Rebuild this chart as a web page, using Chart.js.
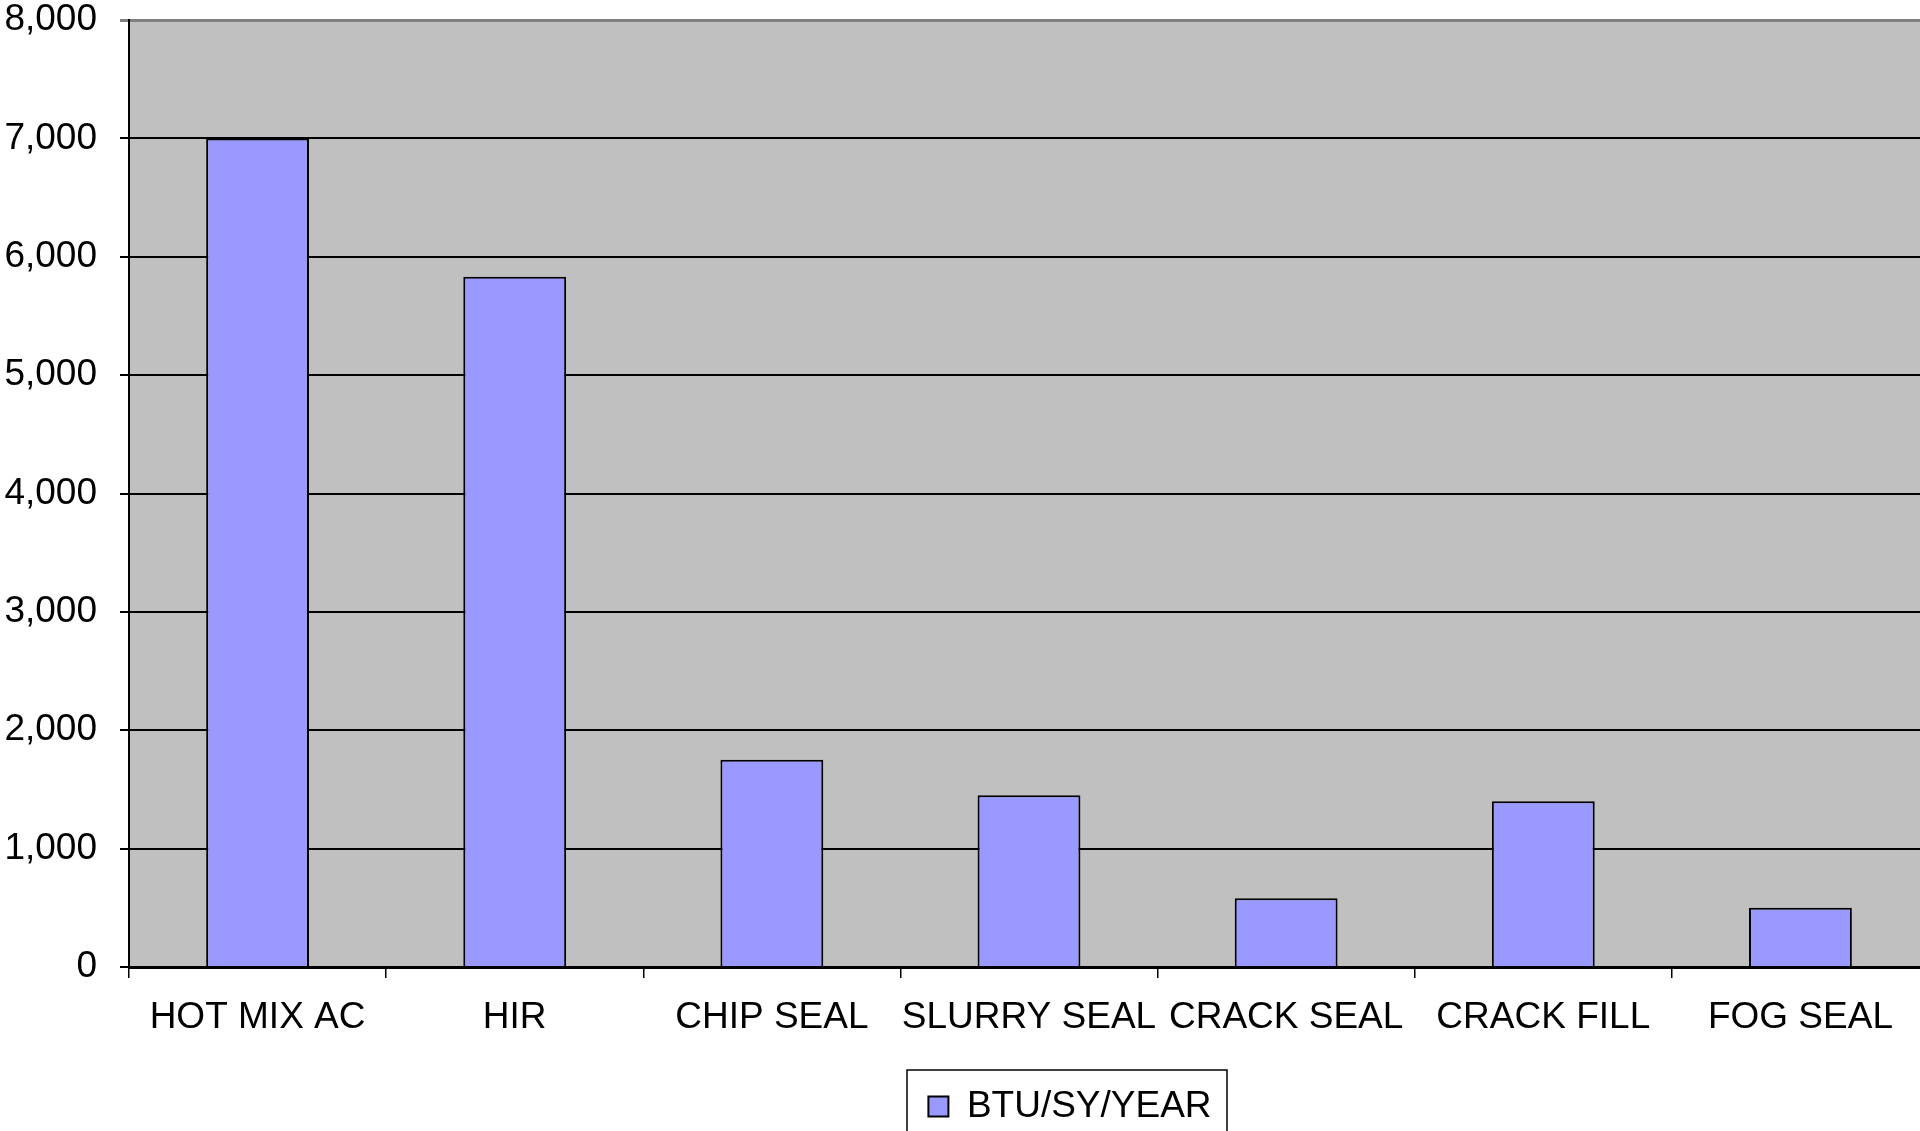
<!DOCTYPE html>
<html>
<head>
<meta charset="utf-8">
<title>BTU/SY/YEAR</title>
<script src="https://cdn.jsdelivr.net/npm/chart.js@4.4.1/dist/chart.umd.min.js"></script>
<style>
  html, body { margin: 0; padding: 0; background: #fff; overflow: hidden; }
  #wrap { width: 1930px; height: 1131px; }
</style>
</head>
<body>
<div id="wrap"><canvas id="myChart" width="1930" height="1131"></canvas></div>
<script>
var categories = ['HOT MIX AC', 'HIR', 'CHIP SEAL', 'SLURRY SEAL', 'CRACK SEAL', 'CRACK FILL', 'FOG SEAL'];
var btuValues = [7000, 5830, 1750, 1450, 580, 1400, 500];
var seriesName = 'BTU/SY/YEAR';
var yMin = 0, yMax = 8000, yStep = 1000;

var fontFamily = '"Liberation Sans", Arial, Helvetica, sans-serif';

// grey plot area behind everything
var plotBg = {
  id: 'plotBg',
  beforeDraw: function(chart) {
    var a = chart.chartArea, ctx = chart.ctx;
    ctx.save();
    ctx.fillStyle = '#C0C0C0';
    ctx.fillRect(a.left, a.top, a.right - a.left, a.bottom - a.top);
    ctx.restore();
  }
};

// move the legend a bit right of centre and put a frame round it
var legendFrame = {
  id: 'legendFrame',
  afterLayout: function(chart) {
    var lg = chart.legend;
    var dx = 1070 - (lg.left + lg.right) / 2;
    lg.left += dx;
    lg.right += dx;
  },
  afterDraw: function(chart) {
    var lg = chart.legend, ctx = chart.ctx;
    var cx = (lg.left + lg.right) / 2;
    ctx.save();
    ctx.strokeStyle = '#000';
    ctx.lineWidth = 1.5;
    ctx.strokeRect(cx - 163, lg.top + 2, 320, 63);
    ctx.restore();
  }
};

var config = {
  type: 'bar',
  data: {
    labels: categories,
    datasets: [{
      label: seriesName,
      data: btuValues,
      backgroundColor: '#9999FF',
      borderColor: '#000000',
      borderWidth: 2,
      categoryPercentage: 1,
      barPercentage: 0.4
    }]
  },
  options: {
    responsive: false,
    animation: false,
    devicePixelRatio: 1,
    layout: { padding: { top: 0, right: 1, left: 0, bottom: -4 } },
    plugins: {
      title: { display: false },
      tooltip: { enabled: false },
      legend: {
        position: 'bottom',
        labels: {
          color: '#000',
          font: { family: fontFamily, size: 37 },
          boxWidth: 20,
          boxHeight: 20,
          padding: 20
        }
      }
    },
    scales: {
      x: {
        z: 1,
        grid: {
          display: true,
          offset: true,
          drawOnChartArea: false,
          drawTicks: true,
          tickLength: 11,
          color: '#000',
          lineWidth: 1.5
        },
        border: { display: true, color: '#000', width: 3 },
        ticks: {
          color: '#000',
          font: { family: fontFamily, size: 37, lineHeight: 1 },
          padding: 21,
          maxRotation: 0,
          autoSkip: false
        },
        afterFit: function(scale) { scale.height = 101; }
      },
      y: {
        min: yMin,
        max: yMax,
        grid: {
          color: function(c) { return c.tick && c.tick.value === yMax ? '#808080' : '#000'; },
          lineWidth: function(c) { return c.tick && c.tick.value === yMax ? 3 : 2; },
          tickLength: 9,
          drawTicks: true
        },
        border: { display: true, color: '#000', width: 2 },
        ticks: {
          stepSize: yStep,
          color: '#000',
          font: { family: fontFamily, size: 37, lineHeight: 1 },
          padding: 23
        },
        afterFit: function(scale) {
          scale.width = 129;
          scale.paddingTop = 20;
          scale.paddingBottom = 0;
        }
      }
    }
  },
  plugins: [plotBg, legendFrame]
};

var ctx = document.getElementById('myChart').getContext('2d');
var myBarChart = new Chart(ctx, config);
</script>
</body>
</html>
